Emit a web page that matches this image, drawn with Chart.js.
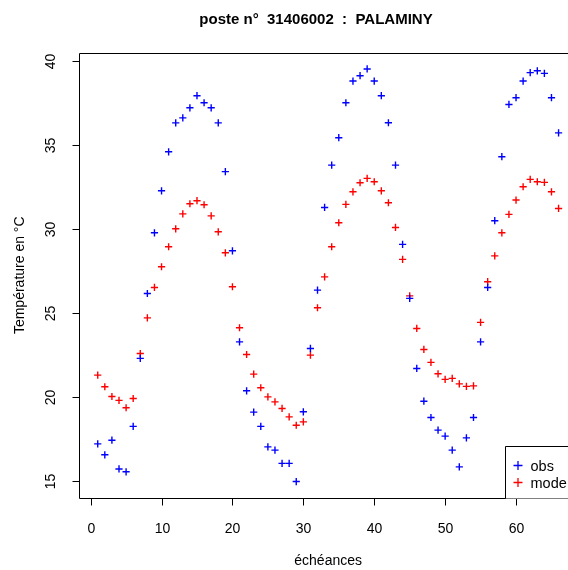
<!DOCTYPE html>
<html>
<head>
<meta charset="utf-8">
<script src="https://cdn.jsdelivr.net/npm/chart.js@4.4.0/dist/chart.umd.min.js"></script>
<style>
html, body { margin: 0; padding: 0; overflow: hidden; background: #fff; width: 568px; height: 570px; }
#c { display: block; }
</style>
</head>
<body>
<canvas id="c" width="600" height="570" style="width:600px;height:570px"></canvas>
<script>
const titleText = 'poste n°  31406002  :  PALAMINY';
const xTitle = 'échéances';
const yTitle = 'Température en °C';
const seriesNames = ['obs', 'mode'];

const echeances = [1,2,3,4,5,6,7,8,9,10,11,12,13,14,15,16,17,18,19,20,21,22,
  23,24,25,26,27,28,29,30,31,32,33,34,35,36,37,38,39,40,41,42,43,44,
  45,46,47,48,49,50,51,52,53,54,55,56,57,58,59,60,61,62,63,64,65,66];

const obs = [17.20,16.55,17.42,15.71,15.54,18.24,22.29,26.15,29.76,32.26,34.58,36.30,
  36.60,37.20,37.92,37.50,37.20,36.30,33.40,28.69,23.27,20.36,19.09,18.24,
  17.02,16.83,16.04,16.04,14.96,19.11,22.88,26.35,31.27,33.79,35.42,37.50,
  38.79,39.11,39.51,38.79,37.92,36.31,33.79,29.07,25.86,21.69,19.74,18.77,
  18.02,17.66,16.83,15.83,17.56,18.77,23.27,26.51,30.48,34.29,37.40,37.80,
  38.79,39.29,39.40,39.25,37.80,35.71];

const modele = [21.29,20.60,20.02,19.79,19.35,19.90,22.58,24.70,26.51,27.74,28.93,30.00,
  30.89,31.49,31.67,31.43,30.77,29.82,28.57,26.55,24.11,22.52,21.35,20.54,
  20.00,19.70,19.31,18.81,18.31,18.51,22.48,25.30,27.14,28.93,30.36,31.45,
  32.20,32.74,33.00,32.80,32.26,31.55,30.08,28.18,26.01,24.07,22.82,22.05,
  21.37,21.04,21.10,20.77,20.62,20.65,24.43,26.85,28.39,29.76,30.86,31.71,
  32.50,32.94,32.80,32.76,32.20,31.21];

const xTicks = [0, 10, 20, 30, 40, 50, 60];
const yTicks = [15, 20, 25, 30, 35, 40];

const FONT = '"Liberation Sans", Arial, Helvetica, sans-serif';

const rAxesPlugin = {
  id: 'rAxes',
  afterDraw(chart) {
    const ctx = chart.ctx;
    const a = chart.chartArea;
    const xs = chart.scales.x, ys = chart.scales.y;
    const L = Math.round(a.left) + 0.5, T = Math.round(a.top) + 0.5;
    const R = Math.round(a.right) + 0.5, B = Math.round(a.bottom) + 0.5;
    ctx.save();
    ctx.strokeStyle = '#000';
    ctx.lineWidth = 1;
    // plot box (right side lies beyond the visible window)
    ctx.beginPath();
    ctx.moveTo(R, T); ctx.lineTo(L, T); ctx.lineTo(L, B); ctx.lineTo(R, B);
    ctx.stroke();
    ctx.fillStyle = '#000';
    ctx.font = '14px ' + FONT;
    // x ticks
    ctx.textAlign = 'center';
    ctx.textBaseline = 'alphabetic';
    xTicks.forEach(v => {
      const px = Math.round(xs.getPixelForValue(v)) + 0.5;
      ctx.beginPath(); ctx.moveTo(px, B); ctx.lineTo(px, B + 7); ctx.stroke();
      ctx.fillText(String(v), px, 532.5);
    });
    // y ticks
    yTicks.forEach(v => {
      const py = Math.round(ys.getPixelForValue(v)) + 0.5;
      ctx.beginPath(); ctx.moveTo(L - 7, py); ctx.lineTo(L, py); ctx.stroke();
      ctx.save();
      ctx.translate(54.5, py);
      ctx.rotate(-Math.PI / 2);
      ctx.textAlign = 'center';
      ctx.fillText(String(v), 0, 0);
      ctx.restore();
    });
    // axis titles
    ctx.textAlign = 'center';
    ctx.fillText(xTitle, (a.left + a.right) / 2, 565);
    ctx.save();
    ctx.translate(23.5, (a.top + a.bottom) / 2);
    ctx.rotate(-Math.PI / 2);
    ctx.fillText(yTitle, 0, 0);
    ctx.restore();
    // main title
    ctx.font = 'bold 15px ' + FONT;
    ctx.fillText(titleText, 316, 23.5);
    // legend (bottom-right, partly beyond the window)
    const lx = 505.5, ly = 446.5;
    ctx.fillStyle = '#fff';
    ctx.fillRect(lx, ly, R - lx, B - ly);
    ctx.strokeStyle = '#000';
    ctx.lineWidth = 1;
    ctx.beginPath();
    ctx.moveTo(R, ly); ctx.lineTo(lx, ly); ctx.lineTo(lx, B);
    ctx.stroke();
    const cols = ['#0000ff', '#ff0000'];
    const rows = [465.5, 482.5];
    ctx.font = '14.5px ' + FONT;
    ctx.textAlign = 'left';
    ctx.textBaseline = 'middle';
    seriesNames.forEach((n, i) => {
      const cx = 518, cy = rows[i];
      ctx.strokeStyle = cols[i];
      ctx.lineWidth = 1.3;
      ctx.beginPath();
      ctx.moveTo(cx - 4.5, cy); ctx.lineTo(cx + 4.5, cy);
      ctx.moveTo(cx, cy - 4.5); ctx.lineTo(cx, cy + 4.5);
      ctx.stroke();
      ctx.fillStyle = '#000';
      ctx.fillText(n, 530.5, cy + 1);
    });
    ctx.restore();
  }
};

new Chart(document.getElementById('c'), {
  type: 'scatter',
  data: {
    datasets: [
      {
        label: seriesNames[0],
        data: echeances.map((e, i) => ({ x: e, y: obs[i] })),
        pointStyle: 'cross',
        pointRadius: 3.6,
        pointHoverRadius: 3.6,
        borderWidth: 1.4,
        borderColor: '#0000ff',
        backgroundColor: '#0000ff'
      },
      {
        label: seriesNames[1],
        data: echeances.map((e, i) => ({ x: e, y: modele[i] })),
        pointStyle: 'cross',
        pointRadius: 3.6,
        pointHoverRadius: 3.6,
        borderWidth: 1.4,
        borderColor: '#ff0000',
        backgroundColor: '#ff0000'
      }
    ]
  },
  options: {
    responsive: false,
    maintainAspectRatio: false,
    animation: false,
    events: [],
    layout: { padding: { left: 79.3, right: 23, top: 52.5, bottom: 72 } },
    plugins: { legend: { display: false }, title: { display: false }, tooltip: { enabled: false } },
    scales: {
      x: { type: 'linear', min: -1.6, max: 68.6, display: false },
      y: { type: 'linear', min: 13.98, max: 40.49, display: false }
    }
  },
  plugins: [rAxesPlugin]
});
</script>
</body>
</html>
